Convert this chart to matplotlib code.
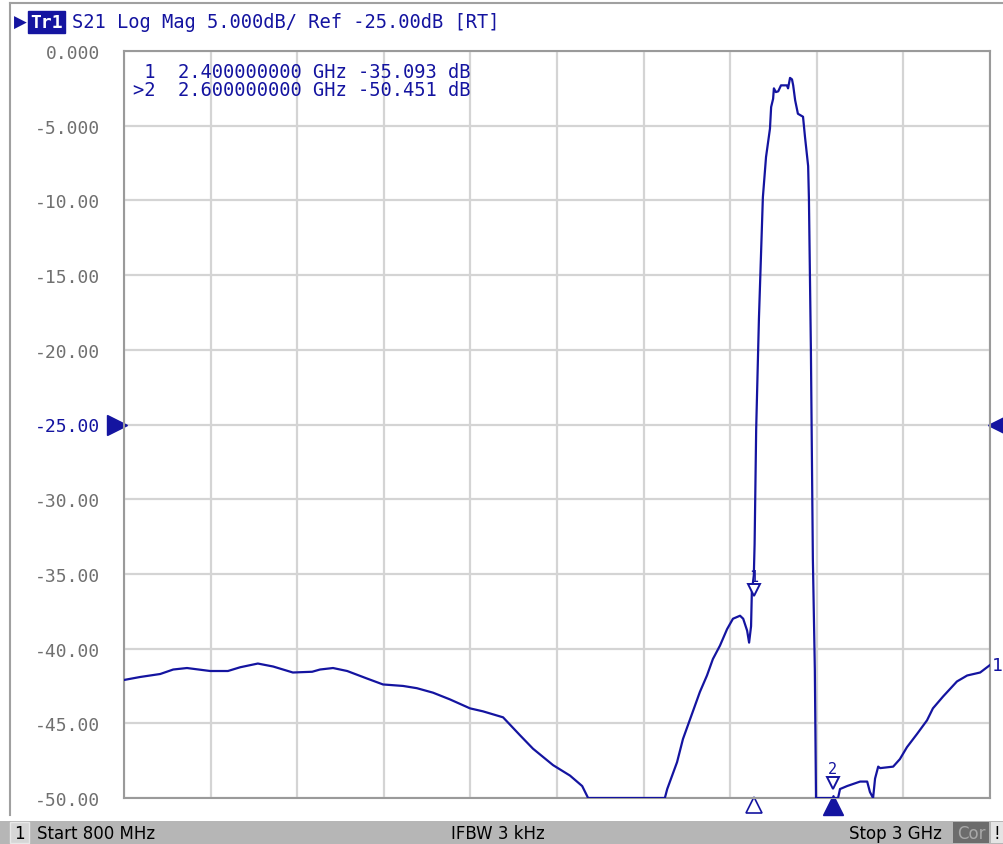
import numpy as np
import matplotlib
matplotlib.use("Agg")
import matplotlib.pyplot as plt
from matplotlib.patches import Rectangle

# S21 trace (GHz, dB); values below -50 dB sit on the bottom edge
freq = [0.800, 0.841, 0.892, 0.925, 0.960, 1.019, 1.064, 1.095, 1.140, 1.179,
        1.229, 1.278, 1.298, 1.331, 1.367, 1.417, 1.458, 1.509, 1.544, 1.585,
        1.628, 1.679, 1.712, 1.763, 1.806, 1.839, 1.890, 1.933, 1.964, 1.979,
        2.174, 2.180, 2.205, 2.220, 2.263, 2.281, 2.296, 2.314, 2.332, 2.347,
        2.365, 2.373, 2.383, 2.388, 2.393, 2.395, 2.400, 2.402, 2.406, 2.413,
        2.423, 2.431, 2.441, 2.444, 2.449, 2.451, 2.456, 2.462, 2.469, 2.484,
        2.487, 2.492, 2.497, 2.500, 2.505, 2.512, 2.525, 2.530, 2.538, 2.540,
        2.545, 2.550, 2.555, 2.558, 2.614, 2.619, 2.637, 2.670, 2.688, 2.695,
        2.703, 2.708, 2.716, 2.721, 2.754, 2.771, 2.789, 2.815, 2.840, 2.855,
        2.881, 2.916, 2.942, 2.975, 3.000]
s21 = [-42.1, -41.9, -41.7, -41.4, -41.3, -41.5, -41.5, -41.25, -41.0, -41.2,
       -41.6, -41.55, -41.4, -41.3, -41.5, -42.0, -42.4, -42.5, -42.65, -42.95,
       -43.4, -44.0, -44.2, -44.6, -45.8, -46.7, -47.8, -48.5, -49.2, -50.0,
       -50.0, -49.4, -47.6, -46.05, -42.9, -41.8, -40.7, -39.8, -38.7, -38.0,
       -37.8, -38.0, -38.8, -39.6, -38.5, -36.2, -35.09, -33.0, -25.3, -17.9,
       -9.8, -7.1, -5.2, -3.75, -3.2, -2.5, -2.75, -2.7, -2.3, -2.3,
       -2.5, -1.8, -1.9, -2.3, -3.3, -4.2, -4.4, -5.75, -7.7, -9.9,
       -20.0, -34.0, -41.4, -50.0, -50.0, -49.4, -49.2, -48.9, -48.9, -49.6,
       -50.0, -48.7, -47.9, -48.0, -47.9, -47.4, -46.6, -45.7, -44.8, -44.0,
       -43.2, -42.2, -41.8, -41.6, -41.1]

marker_freq = [2.4, 2.6]
marker_val = [-35.093, -50.451]
yticks = [0, -5, -10, -15, -20, -25, -30, -35, -40, -45, -50]
ytick_labels = ["0.000", "-5.000", "-10.00", "-15.00", "-20.00", "-25.00",
                "-30.00", "-35.00", "-40.00", "-45.00", "-50.00"]
xgrid = [0.8, 1.02, 1.24, 1.46, 1.68, 1.9, 2.12, 2.34, 2.56, 2.78, 3.0]

blue = "#1414a0"
gray_txt = "#707070"
mono = "DejaVu Sans Mono"

W, H = 1004, 845
fig = plt.figure(figsize=(W / 100, H / 100), dpi=100)
fig.patch.set_facecolor("white")

ax = fig.add_axes([124 / W, 1 - 799 / H, 866 / W, 747 / H])
ax.set_xlim(0.8, 3.0)
ax.set_ylim(-50, 0)
ax.set_xticks(xgrid)
ax.set_yticks(yticks)
ax.set_xticklabels([])
ax.set_yticklabels(ytick_labels, fontfamily=mono, fontsize=13, color=gray_txt)
ax.get_yticklabels()[5].set_color(blue)
ax.tick_params(length=0, pad=17)
ax.grid(True, color="#d4d4d4", lw=1.6)
for sp in ax.spines.values():
    sp.set_color("#9a9a9a")
    sp.set_linewidth(1.5)

ax.plot(freq, np.maximum(s21, -50), color=blue, lw=1.6, zorder=3)

# markers on the trace (drawn where the analyzer shows them)
marker_sym_y = [-36.1, -49.0]
for i, (mf, my) in enumerate(zip(marker_freq, marker_sym_y)):
    ax.plot([mf], [my], marker="v", ms=9, mfc="white", mec=blue, mew=1.4,
            zorder=4, clip_on=False)
    ax.text(mf, my + 0.45, str(i + 1), color=blue, fontsize=11, fontfamily=mono,
            ha="center", va="bottom", zorder=4)

# stimulus markers under the grid
tr = ax.get_xaxis_transform()
ax.plot([marker_freq[0]], [-0.0095], marker="^", ms=11, mfc="white", mec=blue,
        mew=1.2, transform=tr, clip_on=False)
ax.plot([marker_freq[1]], [-0.0095], marker="^", ms=14, mfc=blue, mec=blue,
        transform=tr, clip_on=False)

# reference level arrows
ty = ax.get_yaxis_transform()
ax.plot([-0.008], [-25], marker=">", ms=15, color=blue, transform=ty, clip_on=False)
ax.plot([1.012], [-25], marker="<", ms=17, color=blue, transform=ty, clip_on=False)
ax.text(1.002, s21[-1], "1", transform=ty, color=blue, fontsize=13,
        fontfamily=mono, ha="left", va="center")

# marker readout
fig.text(133 / W, 1 - 72 / H, " 1  2.400000000 GHz -35.093 dB", color=blue,
         fontsize=13.5, fontfamily=mono, va="center")
fig.text(133 / W, 1 - 91 / H, ">2  2.600000000 GHz -50.451 dB", color=blue,
         fontsize=13.5, fontfamily=mono, va="center")

# header line
fig.add_artist(plt.Line2D([10 / W, 10 / W], [1 - 4 / H, 1 - 816 / H], color="#a0a0a0", lw=1.5))
fig.add_artist(plt.Line2D([10 / W, 1.0], [1 - 4 / H, 1 - 4 / H], color="#a0a0a0", lw=1.5))
fig.text(14 / W, 1 - 23 / H, "\u25B6", color=blue, fontsize=12, va="center")
fig.text(30 / W, 1 - 23 / H, "Tr1", color="white", fontsize=13, fontfamily=mono,
         va="center", fontweight="bold",
         bbox=dict(boxstyle="square,pad=0.12", fc=blue, ec=blue))
fig.text(72 / W, 1 - 23 / H, "S21 Log Mag 5.000dB/ Ref -25.00dB [RT]", color=blue,
         fontsize=13.5, fontfamily=mono, va="center")

# status bar
fig.add_artist(Rectangle((0, 0), 1, 23 / H, transform=fig.transFigure,
                         fc="#b6b6b6", ec="none"))
fig.add_artist(Rectangle((10 / W, 1 / H), 19 / W, 21 / H, transform=fig.transFigure,
                         fc="#d6d6d6", ec="#e8e8e8"))
fig.add_artist(Rectangle((953 / W, 1 / H), 36 / W, 21 / H, transform=fig.transFigure,
                         fc="#6c6c6c", ec="none"))
fig.add_artist(Rectangle((991 / W, 1 / H), 13 / W, 21 / H, transform=fig.transFigure,
                         fc="#e4e4e4", ec="none"))
sb = dict(fontsize=12, color="black", va="center",
          fontfamily=["Liberation Sans Narrow", "DejaVu Sans"])
fig.text(19.5 / W, 11 / H, "1", ha="center", **sb)
fig.text(37 / W, 11 / H, "Start 800 MHz", ha="left", **sb)
fig.text(498 / W, 11 / H, "IFBW 3 kHz", ha="center", **sb)
fig.text(942 / W, 11 / H, "Stop 3 GHz", ha="right", **sb)
fig.text(971 / W, 11 / H, "Cor", ha="center", **{**sb, "color": "#a8a8a8"})
fig.text(997 / W, 11 / H, "!", ha="center", **sb)

fig.savefig("out.png", dpi=100)
